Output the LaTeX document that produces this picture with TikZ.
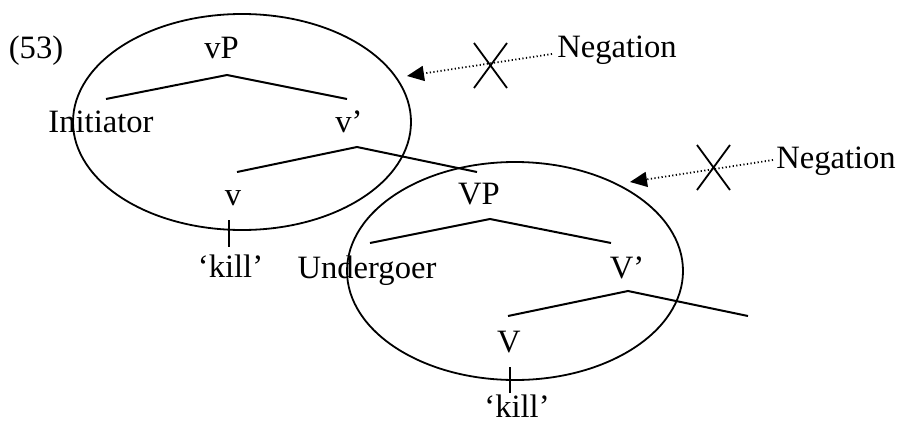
\documentclass[tikz,border=0pt]{standalone}
\usepackage{fontspec}
\setmainfont{Liberation Serif}
\usetikzlibrary{arrows.meta}
\begin{document}
\begin{tikzpicture}[x=0.5pt,y=-0.5pt,
  lbl/.style={inner sep=0pt,anchor=base,font=\fontsize{16.3}{19}\selectfont},
  branch/.style={line width=1pt},
  ring/.style={line width=0.9pt},
  neg/.style={line width=0.9pt,dash pattern=on 0.6pt off 1.2pt,-{Triangle[length=8.5pt,width=7.5pt]}},
  cross/.style={line width=0.9pt}]
\useasboundingbox (0,0) rectangle (898,423);
% ellipses
\draw[ring] (242,122) ellipse [x radius=169, y radius=108];
\draw[ring] (515,271) ellipse [x radius=168, y radius=109];
% labels
\node[lbl] (ex) at (36,58) {(53)};
\node[lbl] (vP) at (221.5,58) {vP};
\node[lbl] (init) at (101,132) {Initiator};
\node[lbl] (vbar) at (349,132) {v’};
\node[lbl] (v) at (233,205) {v};
\node[lbl] (kill1) at (230.5,277) {‘kill’};
\node[lbl] (VP) at (479,204) {VP};
\node[lbl] (under) at (367,278) {Undergoer};
\node[lbl] (Vbar) at (627,278) {V’};
\node[lbl] (V) at (509,352) {V};
\node[lbl] (kill2) at (517,417) {‘kill’};
\node[lbl] (neg1) at (617,57) {Negation};
\node[lbl] (neg2) at (836,168) {Negation};
% tree branches
\coordinate (a1) at (227,75); \coordinate (a1l) at (106,99); \coordinate (a1r) at (347,99);
\coordinate (a2) at (357,147); \coordinate (a2l) at (237,172); \coordinate (a2r) at (477,172);
\coordinate (a3) at (490,219); \coordinate (a3l) at (370,243); \coordinate (a3r) at (611,243);
\coordinate (a4) at (628,291); \coordinate (a4l) at (508,316); \coordinate (a4r) at (748,316);
\draw[branch] (a1l) -- (a1) -- (a1r);
\draw[branch] (a2l) -- (a2) -- (a2r);
\draw[branch] (a3l) -- (a3) -- (a3r);
\draw[branch] (a4l) -- (a4) -- (a4r);
\coordinate (t1a) at (229,220); \coordinate (t1b) at (229,247);
\coordinate (t2a) at (510,367); \coordinate (t2b) at (510,393);
\draw[branch] (t1a) -- (t1b);
\draw[branch] (t2a) -- (t2b);
% negation arrows
\coordinate (n1s) at (552,54); \coordinate (n1e) at (407,76);
\coordinate (n2s) at (773,160); \coordinate (n2e) at (630,182);
\draw[neg] (n1s) -- (n1e);
\draw[neg] (n2s) -- (n2e);
% crosses
\draw[cross] (474,43) -- (507,88) (507,43) -- (474,88);
\draw[cross] (697,145) -- (730,190) (730,145) -- (697,190);
\end{tikzpicture}
\end{document}
